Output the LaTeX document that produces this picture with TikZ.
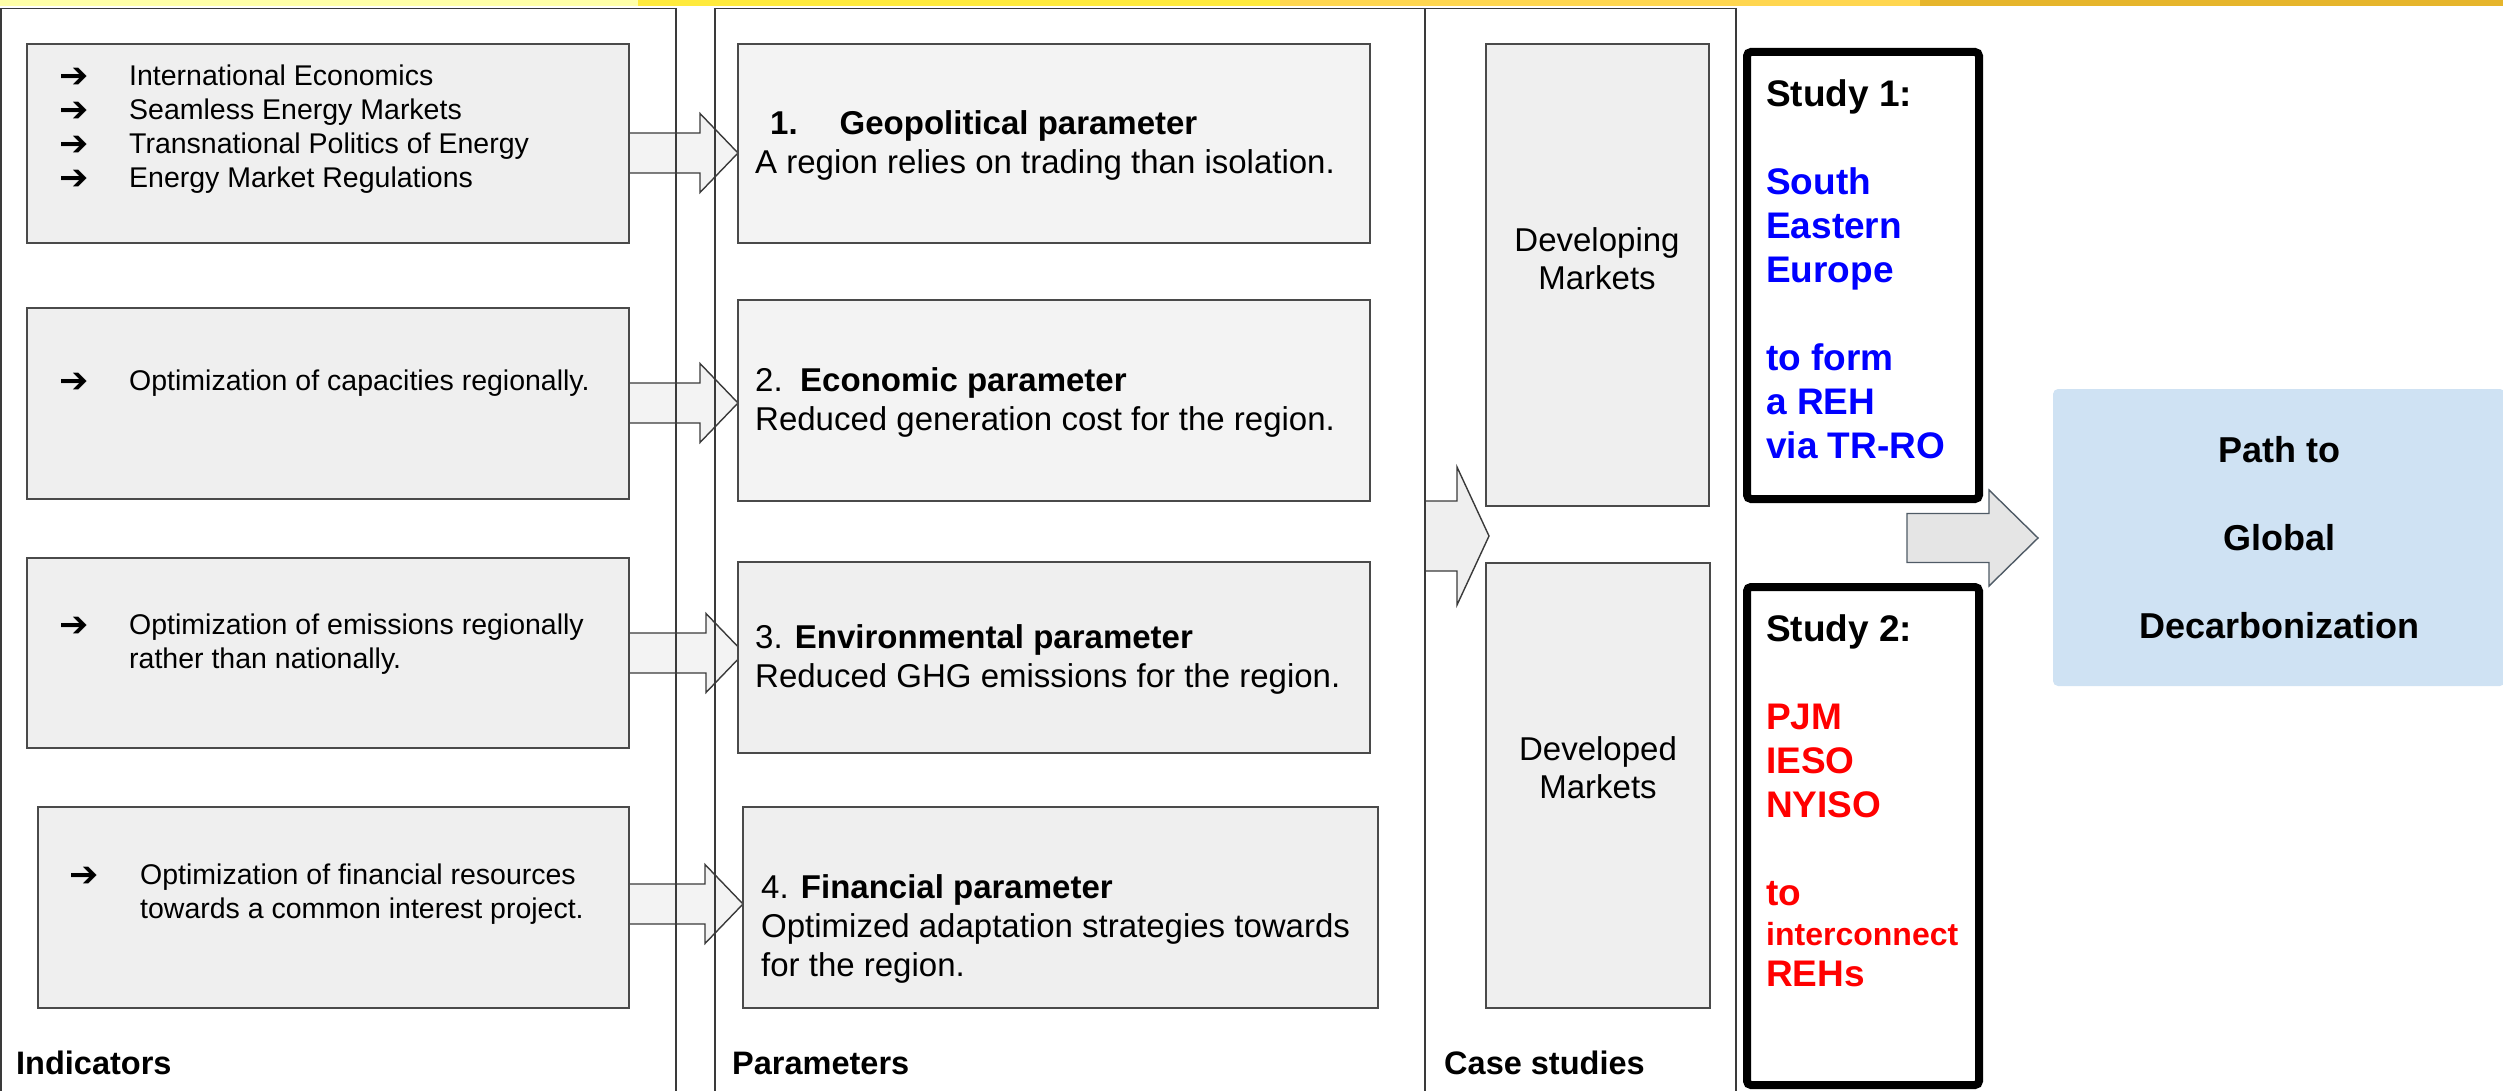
\documentclass[tikz,border=0pt]{standalone}
\usepackage{fontspec}
\setmainfont{Liberation Sans}
\newfontfamily\arrowfont{DejaVu Sans}
\usetikzlibrary{calc}
\pgfdeclarelayer{bg}
\pgfsetlayers{bg,main}
\definecolor{boxfill}{HTML}{EFEFEF}
\definecolor{pboxfill}{HTML}{F3F3F3}
\definecolor{boxline}{HTML}{4A4A4A}
\definecolor{frameline}{HTML}{3A3A3A}
\definecolor{pathblue}{HTML}{CFE2F3}
\definecolor{slate}{HTML}{4F5B66}
\definecolor{arrowgray}{HTML}{E5E5E5}
\definecolor{yelA}{HTML}{FFFFA8}
\definecolor{yelB}{HTML}{FFEA3C}
\definecolor{yelC}{HTML}{FFD64F}
\definecolor{yelD}{HTML}{E6B52B}
\definecolor{sblue}{HTML}{0000FF}
\definecolor{sred}{HTML}{FF0000}
\newcommand{\blockarr}[4]{%
  \coordinate (tmpy) at (0,#3);
  \filldraw[barr] ($(#1.east|-tmpy)+(0,-20)$) -- ($(#2.west|-tmpy)+(#4-38,-20)$) -- ++(0,-19.5)
    -- ($(#2.west|-tmpy)+(#4,0)$) -- ($(#2.west|-tmpy)+(#4-38,39.5)$) -- ++(0,-19.5)
    -- ($(#1.east|-tmpy)+(0,20)$);}
\begin{document}
\begin{tikzpicture}[x=1pt,y=-1pt,
  frame/.style={draw=frameline, line width=1.6, inner sep=0, outer sep=0},
  ibox/.style={draw=boxline, line width=2.3, fill=boxfill, inner sep=0, outer sep=0},
  pbox/.style={ibox, fill=pboxfill},
  sbox/.style={draw=black, line width=8, rounded corners=4, inner sep=0, outer sep=0},
  barr/.style={fill=pboxfill, draw=frameline, line width=1.4, line join=miter},
  sarr/.style={fill=arrowgray, draw=slate, line width=1.4, line join=miter},
  itxt/.style={anchor=west, inner sep=0, align=left, font=\fontsize{28.5}{34}\selectfont},
  iarr/.style={anchor=west, inner sep=0, align=left, font=\arrowfont\fontsize{35}{34}\selectfont},
  ptxt/.style={anchor=west, inner sep=0, align=left, font=\fontsize{33}{39}\selectfont},
  ctxt/.style={anchor=center, inner sep=0, align=center, font=\fontsize{33}{38}\selectfont},
  lbl/.style={anchor=west, inner sep=0, font=\bfseries\fontsize{32.5}{38}\selectfont},
  stxt/.style={anchor=west, inner sep=0, align=left, font=\bfseries\fontsize{37}{44}\selectfont}
]
\useasboundingbox (0,0) rectangle (2503,1091);
% top colour bar
\fill[yelA] (0,0) rectangle (638,6);
\fill[yelB] (638,0) rectangle (1280,6);
\fill[yelC] (1280,0) rectangle (1920,6);
\fill[yelD] (1920,0) rectangle (2503,6);
% column frames
\node[frame, minimum width=675, minimum height=1091.5] (fi) at (338.5,554.25) {};
\node[frame, minimum width=710, minimum height=1091.5] (fp) at (1070,554.25) {};
\node[frame, minimum width=311, minimum height=1091.5] (fc) at (1580.5,554.25) {};
% indicator boxes
\node[ibox, minimum width=602, minimum height=199] (i1) at (328,143.5) {};
\node[ibox, minimum width=602, minimum height=191] (i2) at (328,403.5) {};
\node[ibox, minimum width=602, minimum height=190] (i3) at (328,653) {};
\node[ibox, minimum width=591, minimum height=201] (i4) at (333.5,907.5) {};
% parameter boxes
\node[pbox, minimum width=632, minimum height=199] (p1) at (1054,143.5) {};
\node[pbox, minimum width=632, minimum height=201] (p2) at (1054,400.5) {};
\node[ibox, minimum width=632, minimum height=191] (p3) at (1054,657.5) {};
\node[ibox, minimum width=635, minimum height=201] (p4) at (1060.5,907.5) {};
% case study boxes
\node[ibox, minimum width=223, minimum height=462] (dv) at (1597.5,275) {};
\node[ibox, minimum width=224, minimum height=445] (dd) at (1598,785.5) {};
% study boxes
\node[sbox, minimum width=232, minimum height=447] (s1) at (1863,275.5) {};
\node[sbox, minimum width=232, minimum height=498] (s2) at (1863,836) {};
% result box
\node[fill=pathblue, rounded corners=5, inner sep=0, outer sep=0, minimum width=452, minimum height=297,
  align=center, font=\bfseries\fontsize{36}{44}\selectfont] (pb) at (2279,537.5)
  {Path to\\[44pt]Global\\[44pt]Decarbonization};
% indicator texts
\node[iarr] (ia1) at (59,129) {➔\\➔\\➔\\➔};
\node[itxt] (it1) at (129,129) {International Economics\\Seamless Energy Markets\\Transnational Politics of Energy\\Energy Market Regulations};
\node[iarr] (ia2) at (59,383) {➔};
\node[itxt] (it2) at (129,383) {Optimization of capacities regionally.};
\node[iarr] (ia3) at (59,627) {➔};
\node[itxt] (it3) at (129,644.5) {Optimization of emissions regionally\\rather than nationally.};
\node[iarr] (ia4) at (69,877) {➔};
\node[itxt] (it4) at (140,894.5) {Optimization of financial resources\\towards a common interest project.};
% parameter texts
\node[ptxt] (pt1) at (755,145) {\hspace*{15pt}\textbf{1.}\hspace*{42pt}\textbf{Geopolitical parameter}\\A region relies on trading than isolation.};
\node[ptxt] (pt2) at (755,402.5) {2.\hspace*{17.5pt}\textbf{Economic parameter}\\Reduced generation cost for the region.};
\node[ptxt] (pt3) at (755,659) {3. \textbf{Environmental parameter}\\Reduced GHG emissions for the region.};
\node[ptxt] (pt4) at (761,929) {4. \textbf{Financial parameter}\\Optimized adaptation strategies towards\\for the region.};
% case texts
\node[ctxt] (cdv) at (1597,258.5) {Developing\\Markets};
\node[ctxt] (cdd) at (1598,767.5) {Developed\\Markets};
% column labels
\node[lbl] (li) at (16,1063) {Indicators};
\node[lbl] (lp) at (732,1063) {Parameters};
\node[lbl] (lc) at (1444,1063) {Case studies};
% study texts
\node[stxt] (st1) at (1766,269) {Study 1:\\[44pt]\textcolor{sblue}{South}\\\textcolor{sblue}{Eastern}\\\textcolor{sblue}{Europe}\\[44pt]\textcolor{sblue}{to form}\\\textcolor{sblue}{a REH}\\\textcolor{sblue}{via TR-RO}};
\node[stxt] (st2) at (1766,800.5) {Study 2:\\[44pt]\textcolor{sred}{PJM}\\\textcolor{sred}{IESO}\\\textcolor{sred}{NYISO}\\[44pt]\textcolor{sred}{to}\\[-4pt]\textcolor{sred}{\fontsize{32}{40}\selectfont interconnect}\\[-3pt]\textcolor{sred}{REHs}};
% block arrows (behind)
\begin{pgfonlayer}{bg}
\blockarr{i1}{p1}{153}{0}
\blockarr{i2}{p2}{403}{0}
\blockarr{i3}{p3}{653}{6}
\blockarr{i4}{p4}{904}{0}
\coordinate (bigy) at (0,536);
\filldraw[barr, fill=boxfill] ($(fp.east|-bigy)+(0,-35)$) -- ++(32,0) -- ++(0,-34)
  -- ($(dv.west|-bigy)+(3,0)$) -- ($(fp.east|-bigy)+(32,69)$) -- ++(0,-34) -- ++(-32,0);
\coordinate (sy) at (0,538);
\filldraw[sarr] ($(s1.east|-sy)+(-72,-24.5)$) -- ++(82,0) -- ++(0,-23.5)
  -- ($(pb.west|-sy)+(-15,0)$) -- ($(s1.east|-sy)+(10,48)$) -- ++(0,-23.5) -- ++(-82,0) -- cycle;
\end{pgfonlayer}
\end{tikzpicture}
\end{document}
